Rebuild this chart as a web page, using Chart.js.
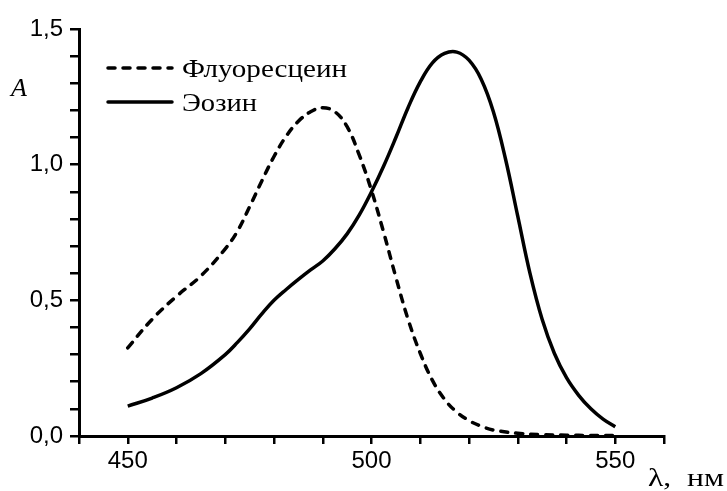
<!DOCTYPE html>
<html>
<head>
<meta charset="utf-8">
<script src="https://cdn.jsdelivr.net/npm/chart.js@4.4.0/dist/chart.umd.min.js"></script>
<style>
html, body { margin: 0; padding: 0; background: #fff; }
#wrap { width: 727px; height: 491px; position: relative; }
</style>
</head>
<body>
<div id="wrap"><canvas id="spectra"></canvas></div>
<script>
// wavelength (nm) and absorbance
const fluoWl = [450, 455, 460, 465, 470, 472.5, 475, 477.5, 480, 482.5, 485, 487.5, 490, 492.5, 495, 497.5, 500, 502.5, 505, 507.5, 510, 512.5, 515, 517.5, 520, 522.5, 525, 530, 535, 540, 545, 550];
const fluoA  = [0.325, 0.43, 0.515, 0.59, 0.69, 0.755, 0.845, 0.94, 1.03, 1.105, 1.16, 1.195, 1.21, 1.195, 1.14, 1.035, 0.905, 0.75, 0.585, 0.43, 0.305, 0.205, 0.135, 0.088, 0.057, 0.036, 0.022, 0.01, 0.005, 0.003, 0.002, 0.002];

const eosinWl = [450, 455, 460, 465, 470, 472.5, 475, 477.5, 480, 482.5, 485, 487.5, 490, 492.5, 495, 497.5, 500, 502.5, 505, 507.5, 510, 512.5, 515, 517.5, 520, 522.5, 525, 527.5, 530, 532.5, 535, 537.5, 540, 542.5, 545, 547.5, 550];
const eosinA  = [0.11, 0.14, 0.178, 0.23, 0.30, 0.345, 0.395, 0.45, 0.50, 0.54, 0.577, 0.612, 0.645, 0.69, 0.745, 0.815, 0.90, 0.995, 1.10, 1.21, 1.305, 1.375, 1.41, 1.415, 1.385, 1.315, 1.195, 1.02, 0.81, 0.60, 0.43, 0.305, 0.215, 0.15, 0.10, 0.062, 0.034];

const xLabels = [450, 500, 550];
const yLabels = [0, 0.5, 1.0, 1.5];

const labels = ["Флуоресцеин", "Эозин"];

const toPoints = (xs, ys) => xs.map((x, i) => ({ x: x, y: ys[i] }));

const sansFont = "'Liberation Sans', Arial, sans-serif";
const serifFont = "'Liberation Serif', 'Times New Roman', serif";

// the serif text in the figure is a bit wider than Times, stretch it
function wideText(ctx, text, x, y, width) {
    const w = ctx.measureText(text).width;
    ctx.save();
    ctx.translate(x, y);
    ctx.scale(width / w, 1);
    ctx.fillText(text, 0, 0);
    ctx.restore();
}

/* legend + axis titles, placed like in the figure */
const extras = {
    id: "extras",
    afterDraw(chart) {
        const ctx = chart.ctx;
        ctx.save();
        ctx.fillStyle = "#000";
        ctx.strokeStyle = "#000";
        ctx.textBaseline = "middle";
        ctx.font = "26px " + serifFont;

        chart.data.datasets.forEach((ds, i) => {
            const y = 68 + i * 34;
            ctx.lineWidth = ds.borderWidth;
            ctx.lineCap = "round";
            ctx.setLineDash(ds.borderDash || []);
            ctx.beginPath();
            ctx.moveTo(108, y);
            ctx.lineTo(172, y);
            ctx.stroke();
            ctx.setLineDash([]);
            const target = i === 0 ? 165 : 75;
            wideText(ctx, ds.label, 182, y + 2, target);
        });

        ctx.font = "italic 26px " + serifFont;
        ctx.fillText("A", 11, 89);

        ctx.font = "26px " + serifFont;
        wideText(ctx, "λ,  нм", 648, 479, 76);
        ctx.restore();
    }
};

new Chart(spectra, {
    type: "line",
    data: {
        datasets: [{
            label: labels[0],
            data: toPoints(fluoWl, fluoA),
            borderColor: "#000",
            borderWidth: 3.5,
            borderDash: [7, 8],
            borderCapStyle: "round",
            pointRadius: 0,
            tension: 0.4
        }, {
            label: labels[1],
            data: toPoints(eosinWl, eosinA),
            borderColor: "#000",
            borderWidth: 3.5,
            pointRadius: 0,
            tension: 0.4
        }]
    },
    options: {
        responsive: true,
        maintainAspectRatio: false,
        animation: false,
        devicePixelRatio: 1,
        layout: { padding: { top: 29, right: 63, bottom: 0, left: 0 } },
        plugins: {
            legend: { display: false },
            tooltip: { enabled: false }
        },
        scales: {
            x: {
                type: "linear",
                min: 440,
                max: 560,
                afterFit(scale) { scale.height = 55; },
                border: { color: "#000", width: 3 },
                grid: { drawOnChartArea: false, color: "#000", lineWidth: 2.5, tickLength: 8 },
                ticks: {
                    stepSize: 10,
                    padding: 3,
                    maxRotation: 0,
                    autoSkip: false,
                    color: "#000",
                    font: { family: sansFont, size: 24 },
                    callback: v => xLabels.includes(v) ? String(v) : ""
                }
            },
            y: {
                min: 0,
                max: 1.5,
                afterFit(scale) { scale.width = 79; },
                border: { color: "#000", width: 3 },
                grid: { drawOnChartArea: false, color: "#000", lineWidth: 2.5, tickLength: 9 },
                ticks: {
                    stepSize: 0.1,
                    padding: 7,
                    autoSkip: false,
                    color: "#000",
                    font: { family: sansFont, size: 24 },
                    callback: v => yLabels.some(t => Math.abs(t - v) < 1e-6) ? v.toFixed(1).replace(".", ",") : ""
                }
            }
        }
    },
    plugins: [extras]
});
</script>
</body>
</html>
